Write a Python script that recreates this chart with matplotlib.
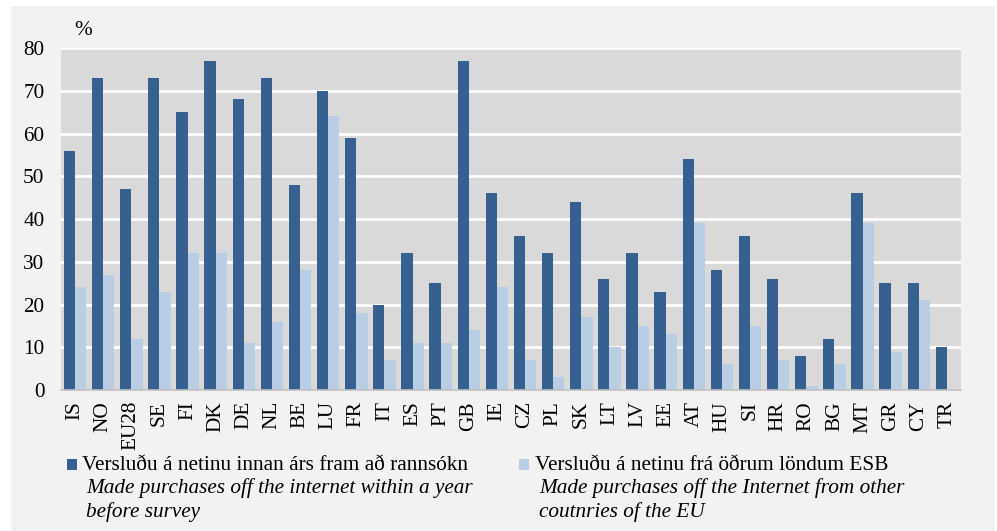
import numpy as np
import matplotlib
matplotlib.use('Agg')
import matplotlib.pyplot as plt
from matplotlib.patches import Rectangle

countries = ['IS', 'NO', 'EU28', 'SE', 'FI', 'DK', 'DE', 'NL', 'BE', 'LU', 'FR', 'IT', 'ES', 'PT', 'GB', 'IE',
             'CZ', 'PL', 'SK', 'LT', 'LV', 'EE', 'AT', 'HU', 'SI', 'HR', 'RO', 'BG', 'MT', 'GR', 'CY', 'TR']
within_year = [56, 73, 47, 73, 65, 77, 68, 73, 48, 70, 59, 20, 32, 25, 77, 46,
               36, 32, 44, 26, 32, 23, 54, 28, 36, 26, 8, 12, 46, 25, 25, 10]
other_eu = [24, 27, 12, 23, 32, 32, 11, 16, 28, 64, 18, 7, 11, 11, 14, 24,
            7, 3, 17, 10, 15, 13, 39, 6, 15, 7, 1, 6, 39, 9, 21, np.nan]

label1 = ['Versluðu á netinu innan árs fram að rannsókn',
          'Made purchases off the internet within a year', 'before survey']
label2 = ['Versluðu á netinu frá öðrum löndum ESB',
          'Made purchases off the Internet from other', 'coutnries of the EU']

dark = '#36608f'
light = '#b9cde5'
fs = 15.3

plt.rcParams['font.family'] = ['Liberation Serif', 'DejaVu Serif']

fig = plt.figure(figsize=(9.97, 5.31), dpi=100)
fig.patch.set_facecolor('white')
fig.patches.append(Rectangle((11/997, 0), 984/997, 1 - 6/531, transform=fig.transFigure,
                             facecolor='#f2f2f2', edgecolor='none', zorder=-5))

ax = fig.add_axes([61/997, 1 - 390/531, 900/997, 342/531])
ax.set_zorder(1)
ax.set_facecolor('#d9d9d9')
x = np.arange(len(countries))
ax.bar(x - 0.2, within_year, width=0.4, color=dark, zorder=3)
ax.bar(x + 0.2, other_eu, width=0.4, color=light, zorder=3)

ax.set_xlim(-0.5, len(countries) - 0.5)
ax.set_ylim(0, 80)
ax.set_yticks(range(0, 81, 10))
ax.yaxis.grid(True, color='white', linewidth=2, zorder=1)
ax.set_axisbelow(True)
for s in ['top', 'right', 'left']:
    ax.spines[s].set_visible(False)
ax.spines['bottom'].set_color('#bfbfbf')
ax.spines['bottom'].set_linewidth(1.2)
ax.spines['bottom'].set_zorder(4)
ax.tick_params(axis='both', length=0, labelsize=fs)
ax.tick_params(axis='y', pad=12)
ax.tick_params(axis='x', pad=8)
ax.set_xticks(x)
ax.set_xticklabels(countries, rotation=90)

fig.text(83/997, 1 - 31/531, '%', fontsize=fs, ha='center', va='center')

# legend drawn by hand
for mx, tx, col, lines in [(67, 82, dark, label1), (519, 535, light, label2)]:
    fig.patches.append(Rectangle((mx/997, 1 - 470/531), 10/997, 11/531, transform=fig.transFigure,
                                 facecolor=col, edgecolor='none', zorder=2))
    fig.text(tx/997, 1 - 470/531, lines[0], fontsize=fs, ha='left', va='baseline')
    fig.text((tx + 4)/997, 1 - 493/531, lines[1], fontsize=fs, style='italic', ha='left', va='baseline')
    fig.text((tx + 4)/997, 1 - 517/531, lines[2], fontsize=fs, style='italic', ha='left', va='baseline')

fig.savefig('out.png', dpi=100)
